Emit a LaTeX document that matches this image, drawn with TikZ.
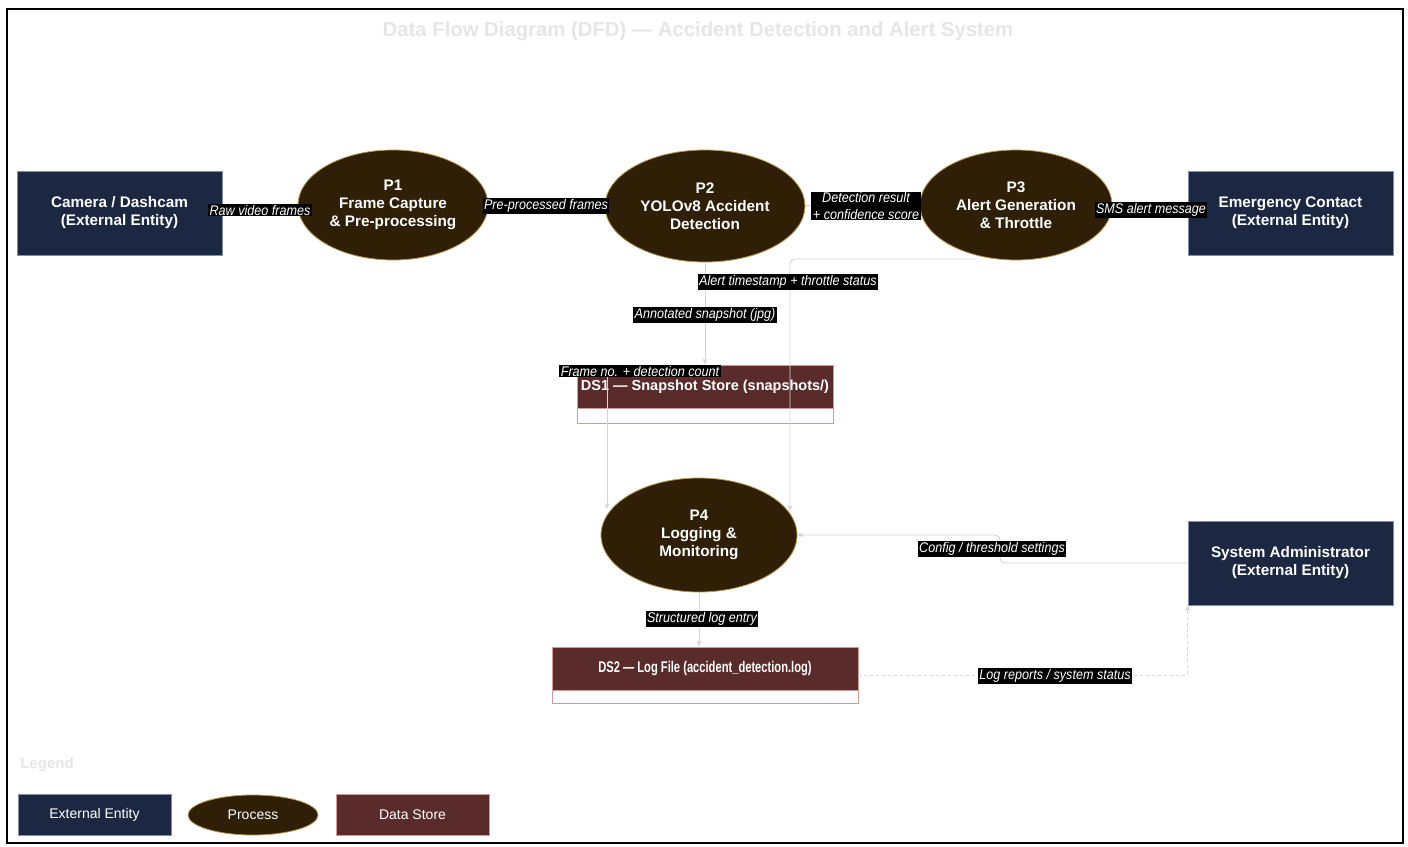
\documentclass[tikz,border=0pt]{standalone}
\usepackage{fontspec}
\setmainfont{Liberation Sans}
\usetikzlibrary{shapes.geometric,arrows.meta,calc}
\definecolor{entfill}{HTML}{1C2841}
\definecolor{entline}{HTML}{8090A8}
\definecolor{procfill}{HTML}{2E1F06}
\definecolor{procline}{HTML}{B89A50}
\definecolor{dsfill}{HTML}{5A2B2B}
\definecolor{dsline}{HTML}{D49A9A}
\definecolor{flowc}{HTML}{D4D4D4}
\definecolor{ghost}{HTML}{E6E6E6}
\tikzset{
  entity/.style={rectangle, fill=entfill, draw=entline, line width=0.8pt, text=white, align=center,
    font=\bfseries\fontsize{15.3}{18}\selectfont, minimum width=205, minimum height=84, inner sep=0},
  proc/.style={ellipse, fill=procfill, draw=procline, line width=0.8pt, text=white, align=center,
    font=\bfseries\fontsize{15.3}{18}\selectfont, inner sep=0},
  dsouter/.style={rectangle, fill=white, draw=dsline, line width=0.8pt, inner sep=0},
  dsband/.style={rectangle, fill=dsfill, draw=dsline, line width=0.8pt, text=white, align=center,
    font=\bfseries\fontsize{14.5}{18}\selectfont, inner sep=0},
  flow/.style={draw=flowc, line width=0.9pt, -{Stealth[length=6pt,width=5pt]}},
  lbl/.style={fill=black, text=white, align=center, inner xsep=1.5pt, inner ysep=1pt,
    font=\itshape\fontsize{14}{16.5}\selectfont\addfontfeature{FakeStretch=0.9}},
  legtext/.style={text=white, font=\fontsize{14}{16}\selectfont}
}
\begin{document}
\begin{tikzpicture}[x=1pt,y=-1pt]
\useasboundingbox (0,0) rectangle (1408,846);
\fill[white] (0,0) rectangle (1408,846);
\draw[line width=2pt, black] (7,9) rectangle (1403,843);

% title
\node[text=ghost, font=\bfseries\fontsize{20.3}{24}\selectfont] (title) at (698,31) {Data Flow Diagram (DFD) — Accident Detection and Alert System};

% external entities
\node[entity] (cam) at (119.5,213) {Camera / Dashcam\\(External Entity)};
\node[entity] (emg) at (1290.5,213) {Emergency Contact\\(External Entity)};
\node[entity] (sa) at (1290.5,563) {System Administrator\\(External Entity)};

% processes
\node[proc, minimum width=190, minimum height=110] (p1) at (393,205) {P1\\Frame Capture\\\& Pre-processing};
\node[proc, minimum width=200, minimum height=112] (p2) at (705,206) {P2\\YOLOv8 Accident\\Detection};
\node[proc, minimum width=192, minimum height=110] (p3) at (1016,205) {P3\\Alert Generation\\\& Throttle};
\node[proc, minimum width=196, minimum height=114] (p4) at (699,535) {P4\\Logging \&\\Monitoring};

% data stores
\node[dsouter, minimum width=256, minimum height=58] (ds1) at (705,394) {};
\node[dsband, minimum width=256, minimum height=43] (ds1t) at (705,386.5) {DS1 — Snapshot Store (snapshots/)};
\node[dsouter, minimum width=306, minimum height=56] (ds2) at (705,675) {};
\node[dsband, minimum width=306, minimum height=43, font=\bfseries\fontsize{15.5}{18}\selectfont\addfontfeature{FakeStretch=0.72}] (ds2t) at (705,668.5) {DS2 — Log File (accident\_detection.log)};

% helper coordinates
\coordinate (p4l) at (607,509);
\coordinate (p4r) at (790,511);
\coordinate (p3b) at (975,259);
\coordinate (cfg) at (1000,549);

% flows
\draw[flow] (cam.east) -- (p1.west);
\draw[flow] (p1) -- (p2);
\draw[flow] (p2) -- (p3);
\draw[flow] (p3.east) -- (emg.west);
\draw[flow] (p2.south) -- (ds1.north);
\draw[flow] (p4l |- ds1.north) -- (p4l);
\draw[flow, rounded corners=5pt] (p3b) -- (p4r |- p3b) -- (p4r);
\draw[flow, rounded corners=5pt] (sa.west) -- (sa.west -| cfg) -- (cfg |- p4.east) -- (p4.east);
\draw[flow] (p4.south) -- (p4.south |- ds2.north);
\draw[flow, dashed] (ds2.east) -| (sa.south west);

% flow labels
\node[lbl] (l1) at (260,210) {Raw video frames};
\node[lbl] (l2) at (546,206) {Pre-processed frames};
\node[lbl] (l3) at (866,206) {Detection result\\+ confidence score};
\node[lbl] (l4) at (1151,210) {SMS alert message};
\node[lbl] (l5) at (788,282) {Alert timestamp + throttle status};
\node[lbl] (l6) at (705,315) {Annotated snapshot (jpg)};
\node[lbl] (l7) at (640,371) {Frame no. + detection count};
\node[lbl] (l8) at (992,549) {Config / threshold settings};
\node[lbl] (l9) at (702,619) {Structured log entry};
\node[lbl] (l10) at (1055,676) {Log reports / system status};

% legend
\node[text=ghost, font=\bfseries\fontsize{15}{18}\selectfont] (legt) at (47,765) {Legend};
\node[entity, minimum width=153, minimum height=41, legtext] (lege) at (94.5,814.5) {External Entity};
\node[proc, minimum width=130, minimum height=40, legtext] (legp) at (253,815) {Process};
\node[dsband, minimum width=153, minimum height=41, legtext] (legd) at (412.5,814.5) {Data Store};
\end{tikzpicture}
\end{document}
